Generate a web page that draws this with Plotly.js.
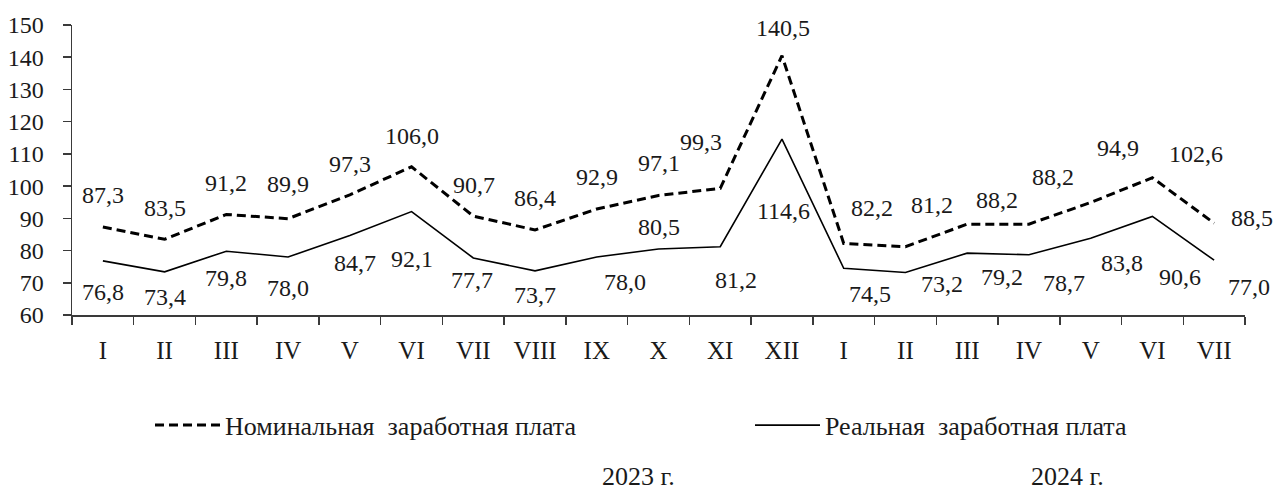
<!DOCTYPE html>
<html>
<head>
<meta charset="utf-8">
<script src="https://cdn.plot.ly/plotly-3.0.1.min.js"></script>
<style>html,body{margin:0;padding:0;background:#fff;}#chart{width:1275px;height:493px;}</style>
</head>
<body>
<div id="chart"></div>
<script>
// ---- data ----
const months = ["I","II","III","IV","V","VI","VII","VIII","IX","X","XI","XII",
                "I","II","III","IV","V","VI","VII"];
const nominal = [87.3,83.5,91.2,89.9,97.3,106.0,90.7,86.4,92.9,97.1,99.3,140.5,
                 82.2,81.2,88.2,88.2,94.9,102.6,88.5];
const real = [76.8,73.4,79.8,78.0,84.7,92.1,77.7,73.7,78.0,80.5,81.2,114.6,
              74.5,73.2,79.2,78.7,83.8,90.6,77.0];
const seriesNames = ["Номинальная  заработная плата","Реальная  заработная плата"];
const yearLabels = ["2023 г.","2024 г."];

// ---- label placement (pixel offsets from each point: [dx, dy], dy down) ----
const nomShift = [[0,-32],[0,-31],[0,-31],[0,-35],[0,-31],[0,-31],[1,-31],[0,-32],[0,-32],[0,-32],
                  [-19,-46],[1,-28],[28,-35],[27,-42],[30,-24],[24,-47],[27,-55],[44,-24],[38,-5]];
const realShift = [[0,31],[0,25],[0,27],[0,31],[5,28],[0,47],[-1,22],[0,24],[28,25],[0,-22],
                   [16,33],[2,72],[26,26],[37,12],[35,24],[35,28],[31,25],[28,61],[35,27]];

const FONT = "Liberation Serif";
const TXT = "#1a1a1a";
const idx = months.map((_, i) => i);
const fmt = v => v.toFixed(1).replace(".", ",");

const traces = [
  {x: idx, y: nominal, type: "scatter", mode: "lines", name: seriesNames[0], legend: "legend",
   line: {color: "#000", width: 3, dash: "9px,5px"}},
  {x: idx, y: real, type: "scatter", mode: "lines", name: seriesNames[1], legend: "legend2",
   line: {color: "#000", width: 1.6}}
];

const annotations = [];
nominal.forEach((v, i) => annotations.push({
  x: i, y: v, xref: "x", yref: "y", text: fmt(v), showarrow: false,
  xanchor: "center", yanchor: "middle",
  xshift: nomShift[i][0], yshift: -nomShift[i][1],
  font: {family: FONT, size: 24, color: TXT}
}));
real.forEach((v, i) => annotations.push({
  x: i, y: v, xref: "x", yref: "y", text: fmt(v), showarrow: false,
  xanchor: "center", yanchor: "middle",
  xshift: realShift[i][0], yshift: -realShift[i][1],
  font: {family: FONT, size: 24, color: TXT}
}));
annotations.push({x: 0.483, y: -0.614, xref: "paper", yref: "paper", text: yearLabels[0],
  xanchor: "center", yanchor: "bottom",
  showarrow: false, font: {family: FONT, size: 26, color: TXT}});
annotations.push({x: 0.849, y: -0.614, xref: "paper", yref: "paper", text: yearLabels[1],
  xanchor: "center", yanchor: "bottom",
  showarrow: false, font: {family: FONT, size: 26, color: TXT}});

const boundaries = [];
for (let i = 0; i <= months.length; i++) boundaries.push(i - 0.5);

const legendBase = {orientation: "h", xanchor: "left", y: -0.38, yanchor: "middle",
  itemwidth: 65, font: {family: FONT, size: 26, color: TXT}, bgcolor: "rgba(0,0,0,0)"};

const layout = {
  width: 1275, height: 493,
  margin: {l: 72, r: 30, t: 25, b: 178},
  paper_bgcolor: "#fff", plot_bgcolor: "#fff",
  showlegend: true,
  legend: Object.assign({}, legendBase, {x: 0.0665}),
  legend2: Object.assign({}, legendBase, {x: 0.578}),
  xaxis: {
    range: [-0.5, months.length - 0.5], showgrid: false, zeroline: false,
    showline: true, linecolor: "#3a3a3a", linewidth: 1.5,
    tickmode: "array", tickvals: idx, ticktext: months, ticks: "",
    ticklabelstandoff: 12,
    tickfont: {family: FONT, size: 25, color: TXT},
    minor: {tickmode: "array", tickvals: boundaries, ticks: "outside", ticklen: 8,
            tickcolor: "#3a3a3a", tickwidth: 1.5, showgrid: false},
    fixedrange: true
  },
  yaxis: {
    range: [60, 150], tickmode: "array", tickvals: [60,70,80,90,100,110,120,130,140,150],
    showgrid: false, zeroline: false, showline: true, linecolor: "#3a3a3a", linewidth: 1.5,
    ticks: "outside", ticklen: 8, tickcolor: "#3a3a3a", tickwidth: 1.5,
    ticklabelstandoff: 14,
    tickfont: {family: FONT, size: 24, color: TXT}, fixedrange: true
  },
  annotations: annotations
};

Plotly.newPlot("chart", traces, layout, {displayModeBar: false, staticPlot: true});
</script>
</body>
</html>
